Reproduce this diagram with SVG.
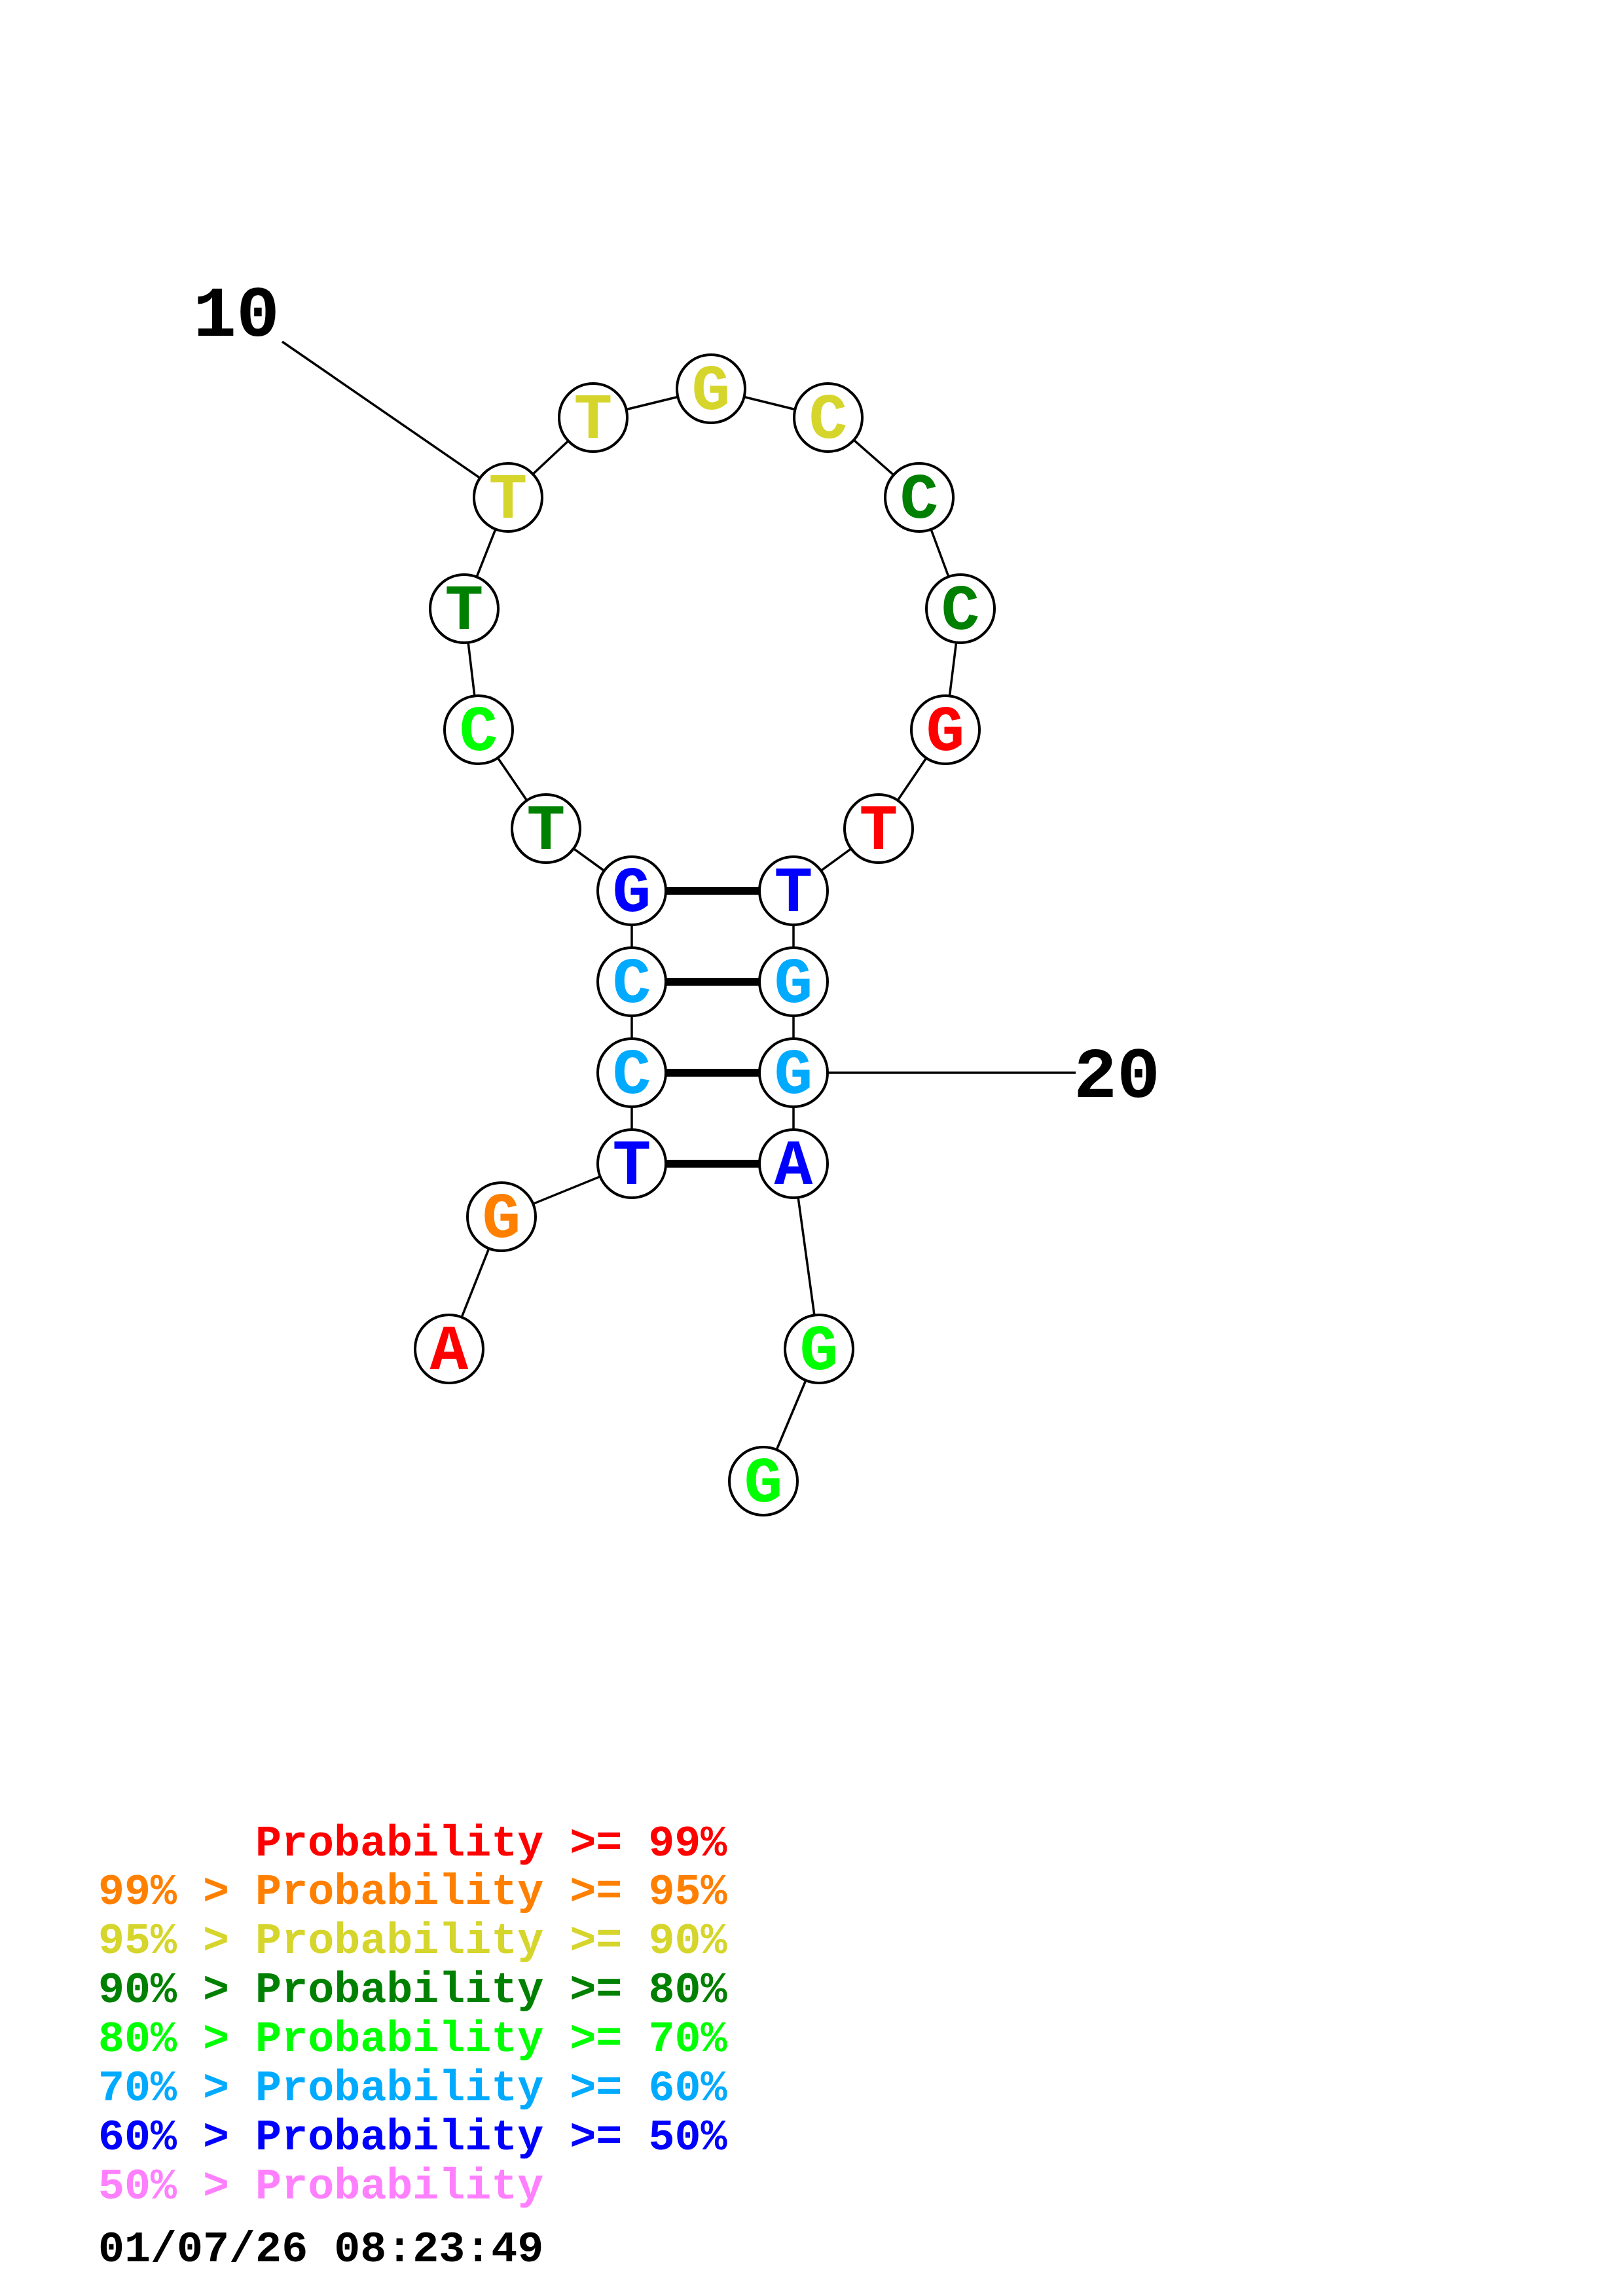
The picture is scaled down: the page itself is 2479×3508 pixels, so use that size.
<svg xmlns="http://www.w3.org/2000/svg" width="2479" height="3508" viewBox="0 0 2479 3508">
<style>
.bb{stroke:#000;stroke-width:3.5;fill:none}
.bp{stroke:#000;stroke-width:12;fill:none}
.nc{fill:#fff;stroke:#000;stroke-width:4}
.nt{font-family:"Liberation Mono",monospace;font-weight:bold;font-size:98px;text-anchor:middle}
.lab{font-family:"Liberation Mono",monospace;font-weight:bold;font-size:110px;fill:#000}
.leg{font-family:"Liberation Mono",monospace;font-weight:bold;font-size:66.7px}
.r{fill:#FF0000}.o{fill:#FF8000}.y{fill:#D5D52B}.dg{fill:#008000}.lg{fill:#00FF00}.c{fill:#00AAFF}.b{fill:#0000FF}.p{fill:#FF80FF}.k{fill:#000}
</style>
<rect width="2479" height="3508" fill="#fff"/>
<g id="connectors">
<line class="bb" x1="686" y1="2061" x2="766" y2="1859"/>
<line class="bb" x1="766" y1="1859" x2="965" y2="1778"/>
<line class="bb" x1="965" y1="1778" x2="965" y2="1639"/>
<line class="bb" x1="965" y1="1639" x2="965" y2="1500"/>
<line class="bb" x1="965" y1="1500" x2="965" y2="1361"/>
<line class="bb" x1="965" y1="1361" x2="834" y2="1266"/>
<line class="bb" x1="834" y1="1266" x2="731" y2="1115"/>
<line class="bb" x1="731" y1="1115" x2="709" y2="930"/>
<line class="bb" x1="709" y1="930" x2="776" y2="760"/>
<line class="bb" x1="776" y1="760" x2="906" y2="638"/>
<line class="bb" x1="906" y1="638" x2="1086" y2="594"/>
<line class="bb" x1="1086" y1="594" x2="1265" y2="638"/>
<line class="bb" x1="1265" y1="638" x2="1404" y2="760"/>
<line class="bb" x1="1404" y1="760" x2="1467" y2="930"/>
<line class="bb" x1="1467" y1="930" x2="1444" y2="1115"/>
<line class="bb" x1="1444" y1="1115" x2="1342" y2="1266"/>
<line class="bb" x1="1342" y1="1266" x2="1212" y2="1361"/>
<line class="bb" x1="1212" y1="1361" x2="1212" y2="1500"/>
<line class="bb" x1="1212" y1="1500" x2="1212" y2="1639"/>
<line class="bb" x1="1212" y1="1639" x2="1212" y2="1778"/>
<line class="bb" x1="1212" y1="1778" x2="1251" y2="2061"/>
<line class="bb" x1="1251" y1="2061" x2="1166" y2="2263"/>
<line class="bp" x1="965" y1="1361" x2="1212" y2="1361"/>
<line class="bp" x1="965" y1="1500" x2="1212" y2="1500"/>
<line class="bp" x1="965" y1="1639" x2="1212" y2="1639"/>
<line class="bp" x1="965" y1="1778" x2="1212" y2="1778"/>
<line class="bb" x1="431" y1="522" x2="776" y2="760"/>
<line class="bb" x1="1212" y1="1639" x2="1643" y2="1639"/>
</g>
<g id="n1"><circle class="nc" cx="686" cy="2061" r="52"/><text class="nt r" x="686" y="2092">A</text></g>
<g id="n2"><circle class="nc" cx="766" cy="1859" r="52"/><text class="nt o" x="766" y="1890">G</text></g>
<g id="n3"><circle class="nc" cx="965" cy="1778" r="52"/><text class="nt b" x="965" y="1809">T</text></g>
<g id="n4"><circle class="nc" cx="965" cy="1639" r="52"/><text class="nt c" x="965" y="1670">C</text></g>
<g id="n5"><circle class="nc" cx="965" cy="1500" r="52"/><text class="nt c" x="965" y="1531">C</text></g>
<g id="n6"><circle class="nc" cx="965" cy="1361" r="52"/><text class="nt b" x="965" y="1392">G</text></g>
<g id="n7"><circle class="nc" cx="834" cy="1266" r="52"/><text class="nt dg" x="834" y="1297">T</text></g>
<g id="n8"><circle class="nc" cx="731" cy="1115" r="52"/><text class="nt lg" x="731" y="1146">C</text></g>
<g id="n9"><circle class="nc" cx="709" cy="930" r="52"/><text class="nt dg" x="709" y="961">T</text></g>
<g id="n10"><circle class="nc" cx="776" cy="760" r="52"/><text class="nt y" x="776" y="791">T</text></g>
<g id="n11"><circle class="nc" cx="906" cy="638" r="52"/><text class="nt y" x="906" y="669">T</text></g>
<g id="n12"><circle class="nc" cx="1086" cy="594" r="52"/><text class="nt y" x="1086" y="625">G</text></g>
<g id="n13"><circle class="nc" cx="1265" cy="638" r="52"/><text class="nt y" x="1265" y="669">C</text></g>
<g id="n14"><circle class="nc" cx="1404" cy="760" r="52"/><text class="nt dg" x="1404" y="791">C</text></g>
<g id="n15"><circle class="nc" cx="1467" cy="930" r="52"/><text class="nt dg" x="1467" y="961">C</text></g>
<g id="n16"><circle class="nc" cx="1444" cy="1115" r="52"/><text class="nt r" x="1444" y="1146">G</text></g>
<g id="n17"><circle class="nc" cx="1342" cy="1266" r="52"/><text class="nt r" x="1342" y="1297">T</text></g>
<g id="n18"><circle class="nc" cx="1212" cy="1361" r="52"/><text class="nt b" x="1212" y="1392">T</text></g>
<g id="n19"><circle class="nc" cx="1212" cy="1500" r="52"/><text class="nt c" x="1212" y="1531">G</text></g>
<g id="n20"><circle class="nc" cx="1212" cy="1639" r="52"/><text class="nt c" x="1212" y="1670">G</text></g>
<g id="n21"><circle class="nc" cx="1212" cy="1778" r="52"/><text class="nt b" x="1212" y="1809">A</text></g>
<g id="n22"><circle class="nc" cx="1251" cy="2061" r="52"/><text class="nt lg" x="1251" y="2092">G</text></g>
<g id="n23"><circle class="nc" cx="1166" cy="2263" r="52"/><text class="nt lg" x="1166" y="2294">G</text></g>
<g id="labels">
<text class="lab" x="295" y="513">10</text>
<text class="lab" x="1640" y="1676">20</text>
</g>
<g id="legend">
<text class="leg r" x="390" y="2835">Probability &gt;= 99%</text>
<text class="leg o" x="150" y="2909">99% &gt; Probability &gt;= 95%</text>
<text class="leg y" x="150" y="2984">95% &gt; Probability &gt;= 90%</text>
<text class="leg dg" x="150" y="3059">90% &gt; Probability &gt;= 80%</text>
<text class="leg lg" x="150" y="3134">80% &gt; Probability &gt;= 70%</text>
<text class="leg c" x="150" y="3209">70% &gt; Probability &gt;= 60%</text>
<text class="leg b" x="150" y="3284">60% &gt; Probability &gt;= 50%</text>
<text class="leg p" x="150" y="3359">50% &gt; Probability</text>
<text class="leg k" x="150" y="3455">01/07/26 08:23:49</text>
</g>
</svg>
